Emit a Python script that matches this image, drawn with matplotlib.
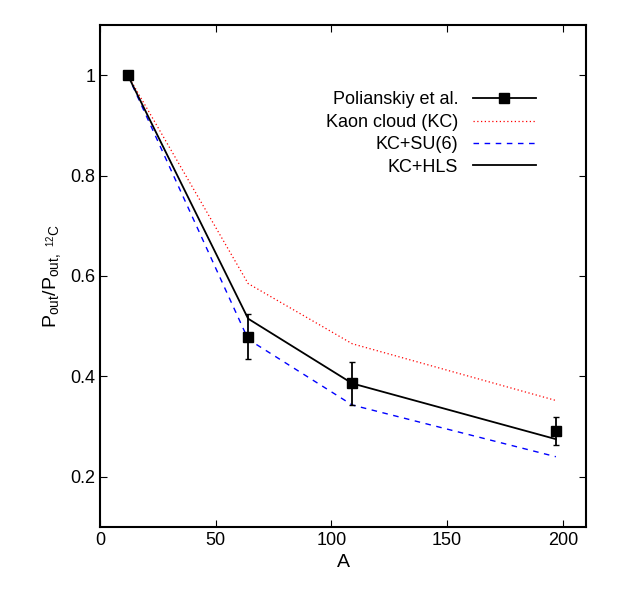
import matplotlib
matplotlib.use("Agg")
import matplotlib.pyplot as plt
from matplotlib.lines import Line2D

plt.rcParams["font.family"] = "Liberation Sans"
plt.rcParams["mathtext.fontset"] = "custom"
plt.rcParams["mathtext.rm"] = "Liberation Sans"

A = [12, 64, 109, 197]
exp_vals = [1.0, 0.479, 0.386, 0.292]
exp_err = [0.0, 0.045, 0.043, 0.028]
kc = [1.0, 0.585, 0.465, 0.352]
su6 = [1.0, 0.474, 0.343, 0.240]
hls = [1.0, 0.515, 0.386, 0.275]

fig = plt.figure(figsize=(6.23, 5.93), dpi=100)
ax = fig.add_axes([100/623, 66/593, 486/623, 502/593])
l1, = ax.plot(A, kc, color="red", ls=(0, (1, 2)), lw=0.9)
l2, = ax.plot(A, su6, color="blue", ls=(0, (4, 4)), lw=1.0)
l3, = ax.plot(A, hls, color="black", lw=1.3)
ax.errorbar(A, exp_vals, yerr=exp_err, fmt="s", color="black", ms=7, capsize=2.5,
            elinewidth=1.3)
ax.set_xlim(0, 210)
ax.set_ylim(0.1, 1.1)
ax.set_xticks([0, 50, 100, 150, 200])
ax.set_yticks([0.2, 0.4, 0.6, 0.8, 1.0])
ax.set_yticklabels(["0.2", "0.4", "0.6", "0.8", "1"])
ax.tick_params(direction="in", labelsize=13, top=True, right=True, length=5)
for s in ax.spines.values():
    s.set_linewidth(1.5)
ax.set_xlabel("A", fontsize=14)
ax.set_ylabel(r"P$_{\rm out}$/P$_{\rm out,\ ^{12}C}$", fontsize=14)
exp_handle = Line2D([], [], color="black", marker="s", ms=7, lw=1.3)
leg = ax.legend([exp_handle, l1, l2, l3],
                ["Polianskiy et al.", "Kaon cloud (KC)", "KC+SU(6)", "KC+HLS"],
                loc="upper right", bbox_to_anchor=(0.93, 0.9), frameon=False, fontsize=13,
                markerfirst=False, handlelength=3.5, labelspacing=0.3)
for t in leg.get_texts():
    t.set_ha("right")
fig.savefig("out.png", dpi=100)
